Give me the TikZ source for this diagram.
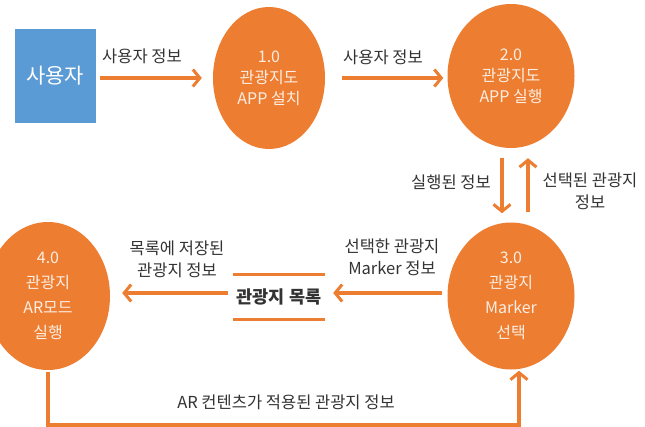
\documentclass[tikz,border=0pt]{standalone}
\usepackage{fontspec}
\setmainfont{Noto Sans CJK KR}
\usetikzlibrary{shapes.geometric,arrows.meta,calc}
\definecolor{dfdorange}{HTML}{ED7D31}
\definecolor{dfdblue}{HTML}{5B9BD5}
\definecolor{labelgray}{HTML}{333333}
\definecolor{cream}{HTML}{FCEEE2}
\begin{document}
\begin{tikzpicture}[x=1pt,y=-1pt,
  proc/.style={ellipse, fill=dfdorange, draw=none, text=cream, align=center,
    font=\fontsize{16}{21}\selectfont, inner sep=0pt},
  ext/.style={rectangle, fill=dfdblue, text=white, font=\fontsize{21}{24}\selectfont,
    minimum width=81pt, minimum height=94pt, inner sep=0pt},
  flow/.style={draw=dfdorange, line width=3.5pt,
    -{Straight Barb[length=7pt,width=17pt,line width=3pt]}},
  lbl/.style={text=labelgray, align=center, font=\fontsize{16.5}{22}\selectfont, inner sep=0pt},
  storeline/.style={draw=dfdorange, line width=3pt},
  storebox/.style={minimum width=92pt, minimum height=45pt, inner sep=0pt,
    font=\bfseries\fontsize{17.5}{18}\selectfont, text=labelgray}
]
\useasboundingbox (0,0) rectangle (645,426);

% nodes
\node[ext] (u) at (55,76) {사용자};
\node[proc, minimum width=112pt, minimum height=142pt] (c1) at (269,78) {1.0\\관광지도\\APP 설치};
\node[proc, minimum width=127pt, minimum height=144pt] (c2) at (511,76) {2.0\\관광지도\\APP 실행};
\node[proc, minimum width=127pt, minimum height=147pt, font=\fontsize{16}{25}\selectfont] (c3) at (511,296) {3.0\\관광지\\Marker\\선택};
\node[proc, minimum width=124pt, minimum height=148pt, font=\fontsize{16}{25}\selectfont] (c4) at (48,296) {4.0\\관광지\\AR모드\\실행};
\node[storebox] (s) at (279,297) {관광지 목록};
\draw[storeline] (s.north west) -- (s.north east);
\draw[storeline] (s.south west) -- (s.south east);

% flows
\draw[flow] ($(u.east)+(4,2)$) -- ($(c1.west)+(-11,0)$);
\draw[flow] ($(c1.east)+(17,0)$) -- ($(c2.west)+(-4,2)$);
\draw[flow] ($(c2.south)+(-9,10)$) -- ($(c3.north)+(-9,-9)$);
\draw[flow] ($(c3.north)+(17,-10)$) -- ($(c2.south)+(17,10)$);
\draw[flow] ($(c3.west)+(-5,-3)$) -- ($(s.east)+(8,-4)$);
\draw[flow] ($(s.west)+(-5,-4)$) -- ($(c4.east)+(12,-3)$);
\draw[flow] ($(c4.south)+(0,2)$) -- ++(0,53) -| ($(c3.south)+(8,1)$);

% labels
\node[lbl] (l1) at (142,56) {사용자 정보};
\node[lbl] (l2) at (383,57) {사용자 정보};
\node[lbl] (l3) at (451,182) {실행된 정보};
\node[lbl] (l4) at (590,191) {선택된 관광지\\정보};
\node[lbl] (l5) at (392,257) {선택한 관광지\\Marker 정보};
\node[lbl] (l6) at (177,259) {목록에 저장된\\관광지 정보};
\node[lbl] (l7) at (286,402) {AR 컨텐츠가 적용된 관광지 정보};
\end{tikzpicture}
\end{document}
